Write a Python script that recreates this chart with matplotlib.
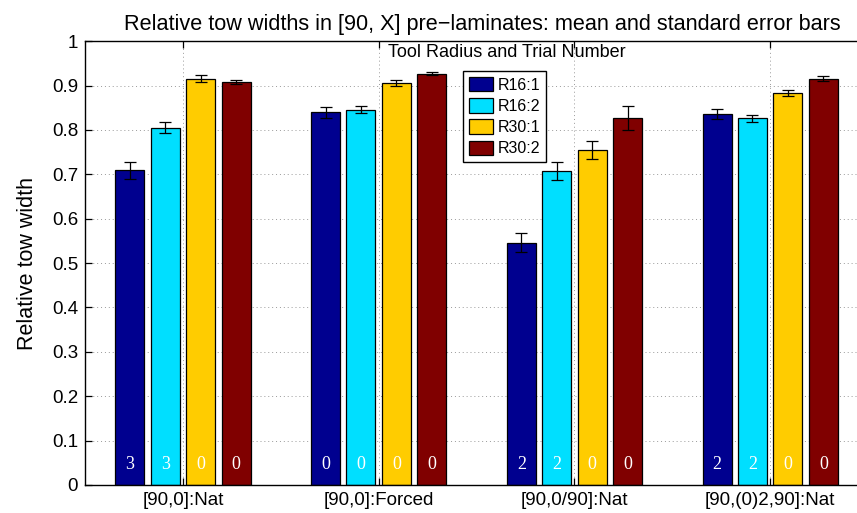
import numpy as np
import matplotlib

matplotlib.use("Agg")
import matplotlib.pyplot as plt

plt.rcParams["font.family"] = ["Liberation Sans", "DejaVu Sans"]

groups = ["[90,0]:Nat", "[90,0]:Forced", "[90,0/90]:Nat", "[90,(0)2,90]:Nat"]
series = ["R16:1", "R16:2", "R30:1", "R30:2"]
colors = ["#00008f", "#00dfff", "#ffcc00", "#800000"]

# mean relative tow width, one row per group, one column per series
means = np.array([
    [0.709, 0.805, 0.916, 0.908],
    [0.840, 0.846, 0.906, 0.927],
    [0.546, 0.708, 0.755, 0.827],
    [0.836, 0.826, 0.884, 0.916],
])
errs = np.array([
    [0.020, 0.012, 0.007, 0.005],
    [0.012, 0.008, 0.007, 0.004],
    [0.022, 0.021, 0.021, 0.026],
    [0.011, 0.007, 0.007, 0.005],
])
# count printed at the foot of each bar
counts = [
    [3, 3, 0, 0],
    [0, 0, 0, 0],
    [2, 2, 0, 0],
    [2, 2, 0, 0],
]

fig = plt.figure(figsize=(8.57, 5.13), dpi=100)
ax = fig.add_axes([0.0992, 0.0546, 0.9137, 0.865])

x = np.arange(1, len(groups) + 1)
step = 0.181
width = 0.148
for j, name in enumerate(series):
    xs = x + (j - 1.5) * step
    ax.bar(xs, means[:, j], width, color=colors[j], edgecolor="black",
           linewidth=0.9, label=name, zorder=2)
    ax.errorbar(xs, means[:, j], yerr=errs[:, j], fmt="none", ecolor="black",
                elinewidth=0.9, capsize=4.3, capthick=0.9, zorder=3)
    for xi, c in zip(xs, [row[j] for row in counts]):
        ax.text(xi, 0.047, str(c), ha="center", va="center", color="white",
                fontsize=13, family="Liberation Serif", zorder=4)

ax.set_xlim(0.5, 4.5)
ax.set_ylim(0, 1)
ax.set_xticks(x)
ax.set_xticklabels(groups, fontsize=13.5)
ax.set_yticks(np.arange(0, 1.01, 0.1))
ax.set_yticklabels(["0"] + [f"{v:.1f}" for v in np.arange(0.1, 0.95, 0.1)] + ["1"],
                   fontsize=13.5)
ax.tick_params(direction="in", top=True, right=True, length=5, width=0.9, pad=5)
ax.grid(True, linestyle=(0, (1, 3)), color="#999999", linewidth=0.7, zorder=0)
ax.set_axisbelow(True)
for s in ax.spines.values():
    s.set_linewidth(1.0)

ax.set_ylabel("Relative tow width", fontsize=15.5, labelpad=10)
ax.set_title("Relative tow widths in [90, X] pre\u2212laminates: mean and standard error bars",
             fontsize=15.6, pad=8, x=0.507)
ax.text(0.387, 0.975, "Tool Radius and Trial Number", transform=ax.transAxes,
        ha="left", va="center", fontsize=13)

leg = ax.legend(loc="upper left", bbox_to_anchor=(0.483, 0.932), fontsize=11.5,
                fancybox=False, edgecolor="black", framealpha=1,
                handlelength=1.5, handleheight=1.0, handletextpad=0.3,
                labelspacing=0.35, borderpad=0.35, borderaxespad=0)
leg.get_frame().set_linewidth(1.0)

fig.savefig("out.png", dpi=100, facecolor="white")
